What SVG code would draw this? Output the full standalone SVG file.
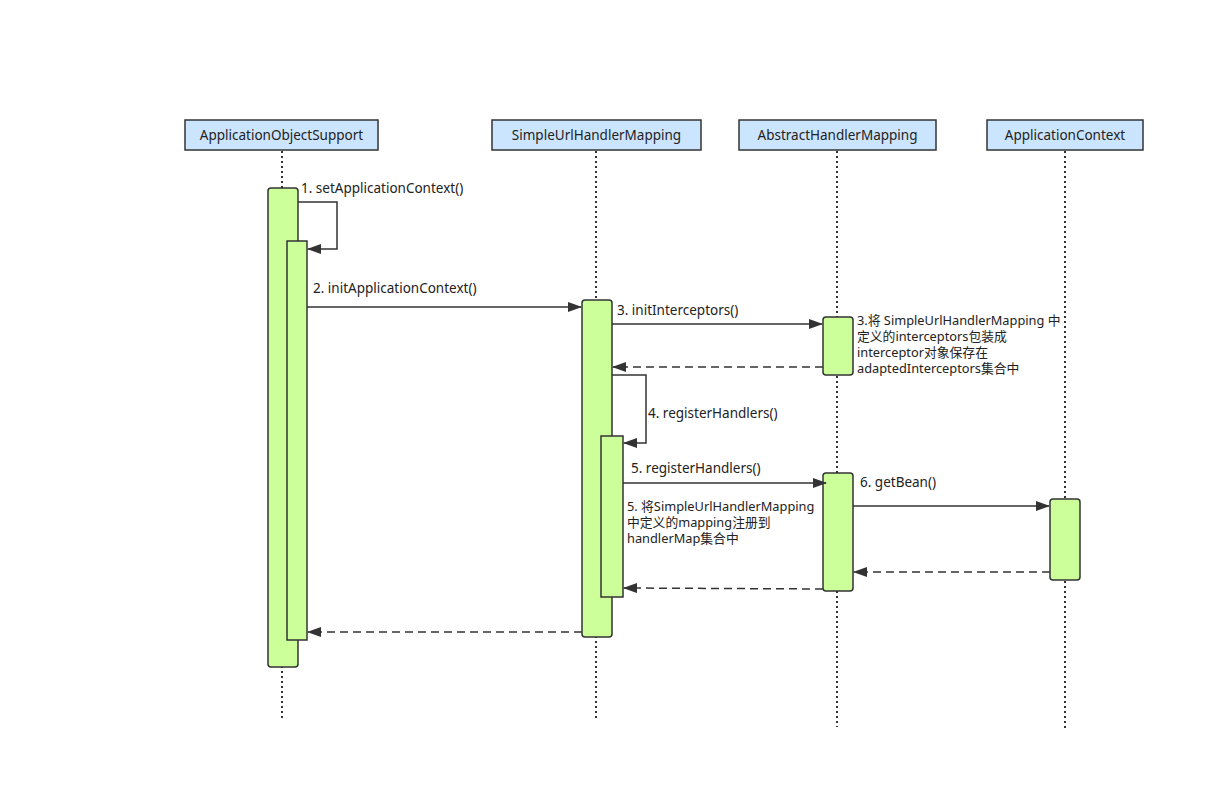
<svg xmlns="http://www.w3.org/2000/svg" width="1205" height="791" viewBox="0 0 1205 791">
<defs>
<marker id="arr" markerWidth="14" markerHeight="10" refX="13" refY="5" orient="auto" markerUnits="userSpaceOnUse">
<path d="M0,0 L14,5 L0,10 Z" fill="#333"/>
</marker>
<style>
text{font-family:"Noto Sans","Noto Sans CJK SC",sans-serif;font-size:13.5px;fill:#222}
.note{font-size:12.8px}
.hdr{fill:#cce5ff;stroke:#333;stroke-width:1.5}
.life{stroke:#333;stroke-width:2;stroke-dasharray:2,3;fill:none}
.act{fill:#ccff99;stroke:#333;stroke-width:1.5}
.msg{stroke:#333;stroke-width:1.5;fill:none;marker-end:url(#arr)}
.ret{stroke:#333;stroke-width:1.5;fill:none;stroke-dasharray:8,5;marker-end:url(#arr)}
.c{text-anchor:middle}
</style>
</defs>
<rect width="1205" height="791" fill="#fff"/>
<g id="lifelines">
<line class="life" x1="282" y1="151" x2="282" y2="720"/>
<line class="life" x1="596" y1="151" x2="596" y2="720"/>
<line class="life" x1="837" y1="151" x2="837" y2="727"/>
<line class="life" x1="1065" y1="151" x2="1065" y2="730"/>
</g>
<g id="ApplicationObjectSupport">
<rect class="hdr" x="185" y="120" width="193" height="30"/>
<text class="c" x="281.5" y="140">ApplicationObjectSupport</text>
<rect class="act" x="268" y="188" width="30" height="479" rx="3"/>
<rect class="act" x="287" y="241" width="20" height="399"/>
</g>
<g id="SimpleUrlHandlerMapping">
<rect class="hdr" x="492" y="120" width="209" height="30"/>
<text class="c" x="596.5" y="140">SimpleUrlHandlerMapping</text>
<rect class="act" x="582" y="300" width="30" height="337" rx="3"/>
<rect class="act" x="601" y="436" width="22" height="161"/>
</g>
<g id="AbstractHandlerMapping">
<rect class="hdr" x="739" y="120" width="197" height="30"/>
<text class="c" x="837.5" y="140">AbstractHandlerMapping</text>
<rect class="act" x="823" y="317" width="30" height="58" rx="3"/>
<rect class="act" x="823" y="473" width="30" height="118" rx="3"/>
</g>
<g id="ApplicationContext">
<rect class="hdr" x="987" y="120" width="156" height="30"/>
<text class="c" x="1065" y="140">ApplicationContext</text>
<rect class="act" x="1050" y="499" width="30" height="81" rx="3"/>
</g>
<g id="connectors">
<polyline class="msg" points="298,202 337,202 337,249 308,249"/>
<line class="msg" x1="307" y1="307" x2="581" y2="307"/>
<line class="msg" x1="612" y1="324" x2="822" y2="324"/>
<line class="ret" x1="823" y1="367" x2="613" y2="367"/>
<polyline class="msg" points="612,375 646,375 646,443 624,443"/>
<line class="msg" x1="623" y1="483" x2="826" y2="483"/>
<line class="msg" x1="853" y1="506" x2="1049" y2="506"/>
<line class="ret" x1="1050" y1="572" x2="854" y2="572"/>
<line class="ret" x1="823" y1="589" x2="624" y2="588"/>
<line class="ret" x1="582" y1="632" x2="308" y2="632"/>
</g>
<g id="labels">
<text x="301" y="193">1. setApplicationContext()</text>
<text x="313" y="293">2. initApplicationContext()</text>
<text x="617" y="315">3. initInterceptors()</text>
<text class="note" x="857" y="325">3.将 SimpleUrlHandlerMapping 中</text>
<text class="note" x="857" y="341">定义的interceptors包装成</text>
<text class="note" x="857" y="357">interceptor对象保存在</text>
<text class="note" x="857" y="373">adaptedInterceptors集合中</text>
<text x="648" y="418">4. registerHandlers()</text>
<text x="631" y="473">5. registerHandlers()</text>
<text class="note" x="627" y="511">5. 将SimpleUrlHandlerMapping</text>
<text class="note" x="627" y="527">中定义的mapping注册到</text>
<text class="note" x="627" y="543">handlerMap集合中</text>
<text x="860" y="487">6. getBean()</text>
</g>
</svg>
